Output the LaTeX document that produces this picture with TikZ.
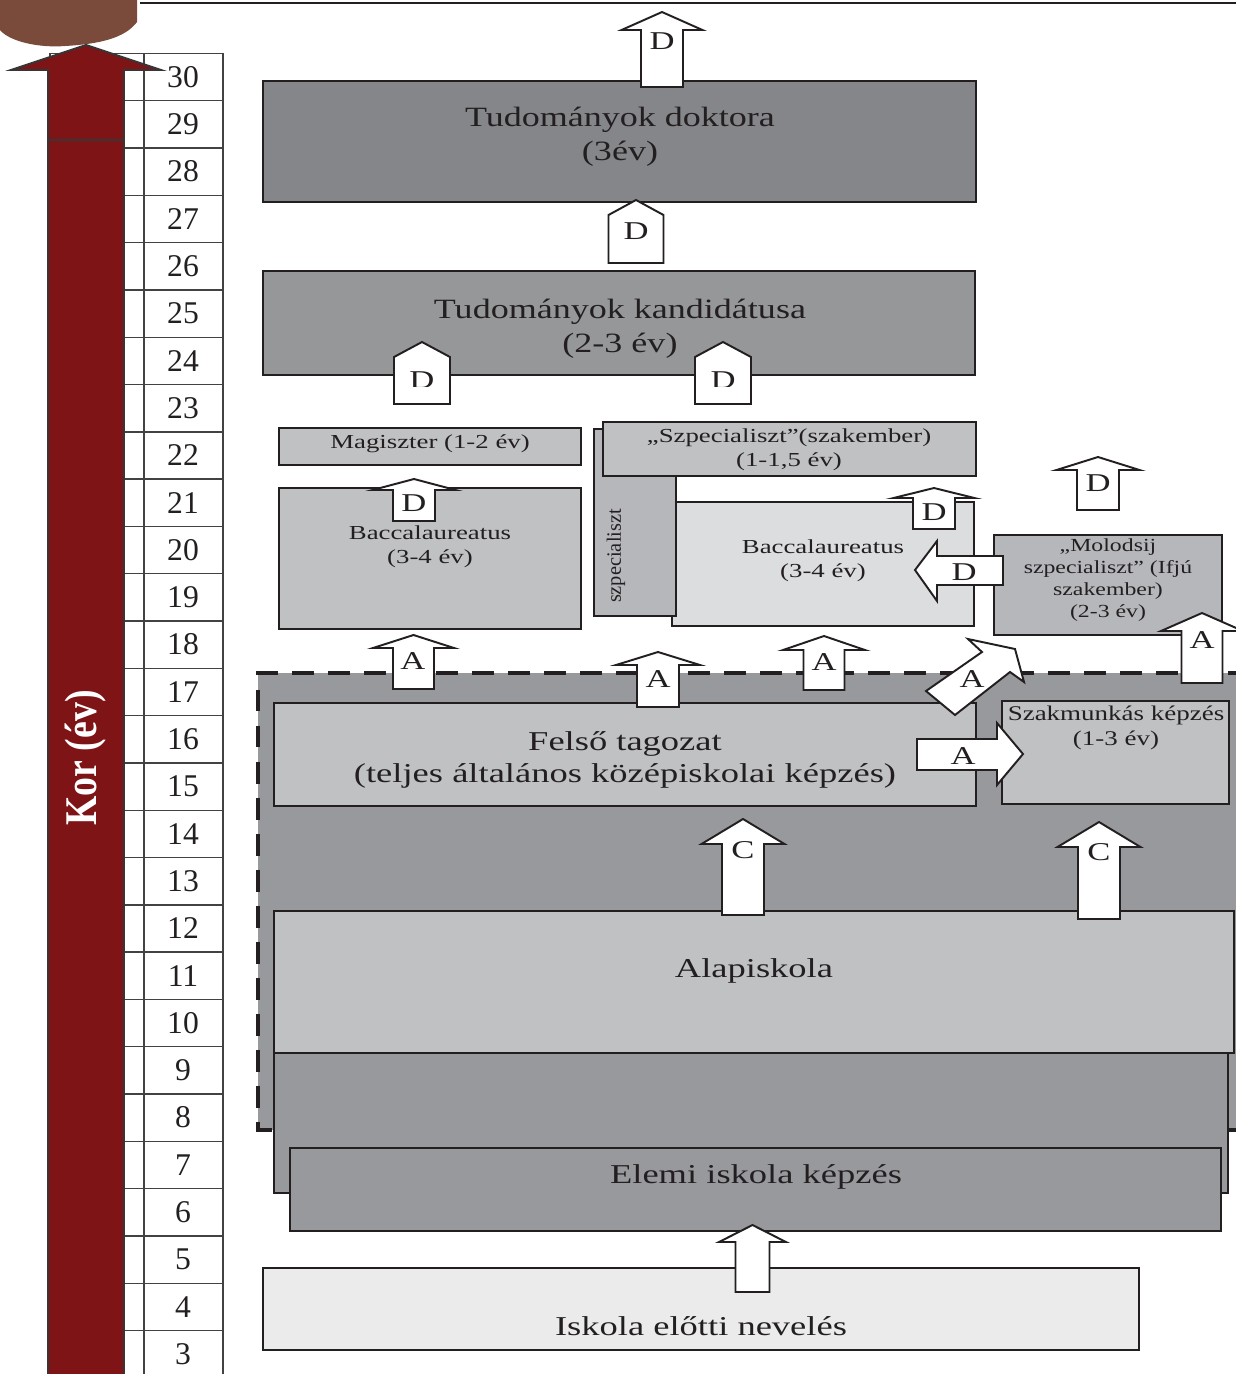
\documentclass[tikz,border=0pt]{standalone}
\usepackage{fontspec}
\setmainfont{Liberation Serif}
\usepackage{graphicx}

\definecolor{dokgray}{HTML}{858689}
\definecolor{kandgray}{HTML}{969799}
\definecolor{lightbox}{HTML}{C0C1C3}
\definecolor{midbox}{HTML}{B6B7BA}
\definecolor{palebox}{HTML}{DCDDDF}
\definecolor{darkzone}{HTML}{98999C}
\definecolor{prebox}{HTML}{EBEBEC}
\definecolor{korred}{HTML}{7E1416}
\definecolor{edge}{HTML}{231F20}
\definecolor{logobrown}{HTML}{7A4A3A}

\tikzset{
  box/.style={draw=edge, line width=1.1pt},
  blk/.style={draw=edge, fill=white, line width=1.1pt, line join=miter},
  grid/.style={draw=edge!85, line width=0.8pt},
  lbl/.style={font=\fontsize{14.6}{16}\selectfont, xscale=1.35, inner sep=0pt, text=edge},
  bigtxt/.style={font=\fontsize{15.9}{19.3}\selectfont, xscale=1.29, align=center, inner sep=0pt, text=edge, yshift=-1.7pt},
  midtxt/.style={font=\fontsize{15.5}{18.1}\selectfont, xscale=1.34, align=center, inner sep=0pt, text=edge, yshift=-1.7pt},
  smalltxt/.style={font=\fontsize{11.3}{13.6}\selectfont, xscale=1.35, align=center, inner sep=0pt, text=edge, yshift=-1.2pt},
  num/.style={font=\fontsize{18}{20}\selectfont, inner sep=0pt, text=edge}
}

% up block arrow: centre x, tip y, wing y, half wing, half shaft, bottom y
\newcommand{\upblk}[6]{%
  \draw[blk] (#1-#5,#6) -- (#1-#5,#3) -- (#1-#4,#3) -- (#1,#2)
    -- (#1+#4,#3) -- (#1+#5,#3) -- (#1+#5,#6) -- cycle;}

\begin{document}
\begin{tikzpicture}[x=0.02cm, y=-0.02cm]
	\clip (0,0) rectangle (1236,1374);

	% page header
	\fill[logobrown] (0,0) -- (0,30) .. controls (10,42) and (40,48) .. (65,46)
		.. controls (100,44) and (125,38) .. (137,22) -- (137,0) -- cycle;
	\draw[edge, line width=0.9pt] (140,3) -- (1240,3);

	% age scale
	\foreach \k in {0,...,28}
		\draw[grid] (50,{53.4+\k*47.3}) -- (223,{53.4+\k*47.3});
	\foreach \xx in {50,144,223}
		\draw[grid] (\xx,53.4) -- (\xx,1380);
	\foreach \n in {3,...,30}
		\node[num] (age\n) at (183,{77+(30-\n)*47.3}) {\n};

	\draw[draw=edge!90, fill=korred, line width=1.1pt, line join=miter]
		(48,1400) -- (48,70) -- (11,70) -- (86,45) -- (161,70) -- (124,70) -- (124,1400) -- cycle;
	\draw[edge!90, line width=1.1pt] (48,140) -- (124,140);
	\node[rotate=90, text=white, font=\fontsize{21.5}{24}\bfseries\selectfont, inner sep=0pt]
		(kor) at (86,758) {\scalebox{1}[1.2]{Kor (év)}};

	% doctoral level
	\draw[box, fill=dokgray] (263,81) rectangle (976,202);
	\node[bigtxt] (doktor) at (620,134) {Tudományok doktora\\(3év)};
	\draw[box, fill=kandgray] (263,271) rectangle (975,375);
	\node[bigtxt] (kandidat) at (620,326) {Tudományok kandidátusa\\(2-3 év)};

	% higher education
	\draw[box, fill=lightbox] (279,428) rectangle (581,465);
	\node[smalltxt] (magiszter) at (430,442) {Magiszter (1-2 év)};
	\draw[box, fill=lightbox] (279,488) rectangle (581,629);
	\node[smalltxt] (bacleft) at (430,545) {Baccalaureatus\\(3-4 év)};

	\draw[box, fill=palebox] (672,502) rectangle (974,626);
	\node[smalltxt] (bacright) at (823,559) {Baccalaureatus\\(3-4 év)};
	\draw[box, fill=midbox] (594,429) rectangle (676,616);
	\node[rotate=90, font=\fontsize{11.6}{13}\selectfont, inner sep=0pt, text=edge]
		(szpecvert) at (616,556) {szpecialiszt};
	\draw[box, fill=lightbox] (603,422) rectangle (976,476);
	\node[smalltxt] (szakember) at (789,448) {„Szpecialiszt”(szakember)\\(1-1,5 év)};

	\draw[box, fill=midbox] (994,535) rectangle (1222,635);
	\node[font=\fontsize{10.5}{12.5}\selectfont, xscale=1.29, align=center, inner sep=0pt, text=edge]
		(molodsij) at (1108,580) {„Molodsij\\szpecialiszt” (Ifjú\\szakember)\\(2-3 év)};

	% school zone
	\fill[darkzone] (258,673) rectangle (1250,1130);
	\draw[edge, line width=2.8pt, dash pattern=on 12.5pt off 8pt] (1250,673) -- (258,673) -- (258,1130) -- (1250,1130);

	\draw[box, fill=lightbox] (274,703) rectangle (976,806);
	\node[midtxt] (felso) at (625,757) {Felső tagozat\\(teljes általános középiskolai képzés)};
	\draw[box, fill=lightbox] (1002,701) rectangle (1229,804);
	\node[font=\fontsize{11.9}{14.2}\selectfont, xscale=1.29, align=center, inner sep=0pt, text=edge, yshift=-1pt]
		(szakmunkas) at (1116,726) {Szakmunkás képzés\\(1-3 év)};

	\draw[box, fill=darkzone] (274,1040) rectangle (1228,1193);
	\draw[box, fill=lightbox] (274,911) rectangle (1234,1053);
	\node[midtxt] (alap) at (754,968) {Alapiskola};
	\draw[box, fill=darkzone] (290,1148) rectangle (1221,1231);
	\node[midtxt] (elemi) at (756,1174) {Elemi iskola képzés};
	\draw[box, fill=prebox] (263,1268) rectangle (1139,1350);
	\node[midtxt] (ovoda) at (701,1323) {Iskola előtti nevelés};

	% D arrows
	\upblk{662}{12}{30}{40.5}{21}{87}
	\node[lbl] (dtop) at (662,41) {D};
	\upblk{636}{200}{215}{27.5}{27.5}{263}
	\node[lbl] (dkand) at (636,231) {D};
	\upblk{422}{342}{357}{28}{28}{404}
	\upblk{723}{342}{357}{28}{28}{404}
	\begin{scope}
		\clip (380,360) rectangle (770,386);
		\node[lbl] (dmag) at (422,380) {D};
		\node[lbl] (dspec) at (723,380) {D};
	\end{scope}
	\upblk{414}{479}{490}{41.5}{21}{521}
	\node[lbl] (dbacl) at (414,503) {D};
	\upblk{934}{488}{498}{40.5}{21}{529}
	\node[lbl] (dbacr) at (934,512) {D};
	\upblk{1098}{457}{470}{41.5}{21}{510}
	\node[lbl] (dmol) at (1098,483) {D};
	\draw[blk] (1003,556) -- (937,556) -- (937,541) -- (915,570) -- (937,601) -- (937,585) -- (1003,585) -- cycle;
	\node[lbl] (dleft) at (964,572) {D};

	% A arrows
	\upblk{413.5}{635}{648}{40.5}{20.5}{689}
	\node[lbl] (a1) at (413,661) {A};
	\upblk{658}{652}{665}{42}{21}{707}
	\node[lbl] (a2) at (658,679) {A};
	\upblk{824}{636}{650}{41}{20.5}{690}
	\node[lbl] (a3) at (824,662) {A};
	\upblk{1202}{613}{631}{41}{20.5}{683}
	\node[lbl] (a4) at (1202,640) {A};
	\draw[blk] (926,691) -- (982,652) -- (968,639) -- (1015,649) -- (1024,682) -- (1010,672) -- (955,715) -- cycle;
	\node[lbl] (adiag) at (972,679) {A};
	\draw[blk] (917,739) -- (997,739) -- (997,723) -- (1023,754) -- (997,785) -- (997,770) -- (917,770) -- cycle;
	\node[lbl] (aright) at (963,756) {A};

	% C arrows
	\upblk{743}{819}{844}{41.5}{21}{915}
	\node[lbl] (c1) at (743,850) {C};
	\upblk{1099}{822}{847}{41.5}{21}{919}
	\node[lbl] (c2) at (1099,852) {C};
	\upblk{752.5}{1225}{1242}{33.5}{17}{1292}

\end{tikzpicture}
\end{document}
